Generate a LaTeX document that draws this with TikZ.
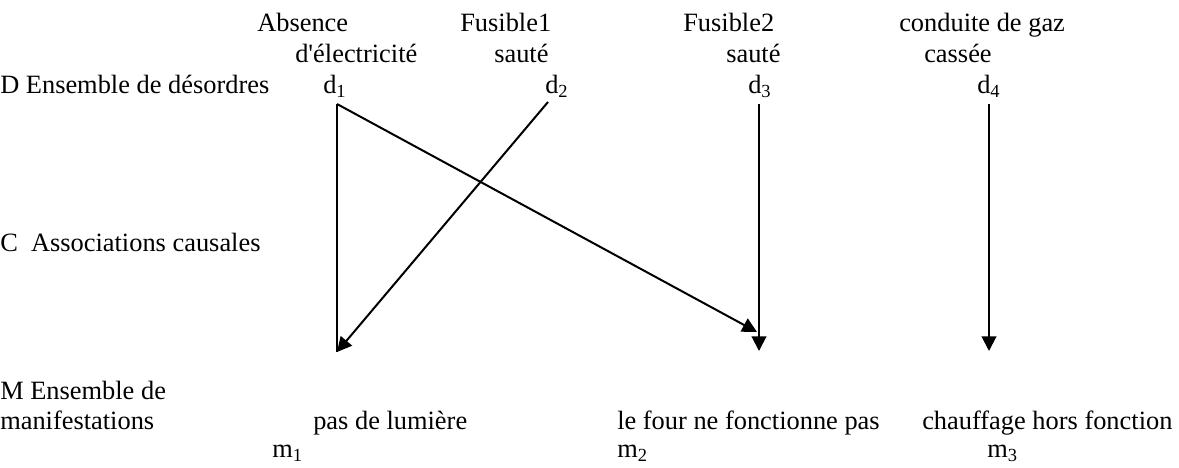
\documentclass[tikz,border=0pt]{standalone}
\usepackage{fontspec}
\setmainfont{Liberation Serif}
\usetikzlibrary{arrows.meta,calc}

\tikzset{
  lbl/.style={anchor=base west, inner sep=0pt, font=\fontsize{19.8}{23.8}\selectfont},
  cause/.style={line width=1.5pt, -{Triangle[length=11pt,width=11pt]}},
  plain/.style={line width=1.5pt}
}

\begin{document}
\begin{tikzpicture}[x=0.75pt, y=-0.75pt]
  \useasboundingbox (0,0) rectangle (1179,468);

  % desordres
  \node[lbl] (abs)  at (257,31) {Absence};
  \node[lbl] (abs2) at (295,62) {d\textquotesingle électricité};
  \node[lbl] (fu1)  at (460,31) {Fusible1};
  \node[lbl] (fu1b) at (494,62) {sauté};
  \node[lbl] (fu2)  at (683,31) {Fusible2};
  \node[lbl] (fu2b) at (726,62) {sauté};
  \node[lbl] (gaz)  at (899,31) {conduite de gaz};
  \node[lbl] (gaz2) at (924,62) {cassée};

  \node[lbl] (D)  at (0,93)   {D Ensemble de désordres};
  \node[lbl] (d1) at (323,93) {d\textsubscript{1}};
  \node[lbl] (d2) at (545,93) {d\textsubscript{2}};
  \node[lbl] (d3) at (748,93) {d\textsubscript{3}};
  \node[lbl] (d4) at (977,93) {d\textsubscript{4}};

  % associations
  \node[lbl] (C) at (0,251) {C\ \ Associations causales};

  % manifestations
  \node[lbl] (M)  at (0,399)   {M Ensemble de};
  \node[lbl] (M2) at (0,429)   {manifestations};
  \node[lbl] (t1) at (313,429) {pas de lumière};
  \node[lbl] (t2) at (617,429) {le four ne fonctionne pas};
  \node[lbl] (t3) at (922,429) {chauffage hors fonction};
  \node[lbl] (m1) at (272,457) {m\textsubscript{1}};
  \node[lbl] (m2) at (617,457) {m\textsubscript{2}};
  \node[lbl] (m3) at (987,457) {m\textsubscript{3}};

  % free ends
  \coordinate (e1) at (337,352);
  \coordinate (e2) at (757,332);
  \coordinate (e3) at (759,351);
  \coordinate (e4) at (989,351);

  \draw[plain] ($(d1.base west)+(14,11)$) -- (e1);
  \draw[cause] ($(d1.base west)+(14,11)$) -- (e2);
  \draw[cause] ($(d2.base west)+(3,9)$) -- (e1);
  \draw[cause] ($(d3.base west)+(11,11)$) -- (e3);
  \draw[cause] ($(d4.base west)+(12,11)$) -- (e4);
\end{tikzpicture}
\end{document}
